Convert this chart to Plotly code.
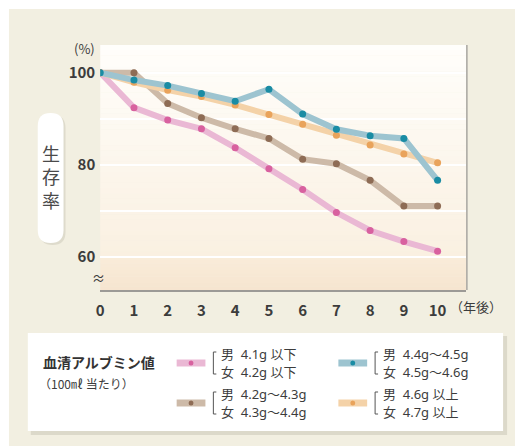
import plotly.graph_objects as go

W, H = 515, 446

years = list(range(11))
x_tick_labels = [str(v) for v in years]
y_tick_vals = [60, 70, 80, 90, 100]
y_tick_text = ["60", "", "80", "", "100"]

pink_vals = [100, 92.4, 89.7, 87.8, 83.7, 79.1, 74.6, 69.6, 65.7, 63.3, 61.2]
brown_vals = [100, 100, 93.3, 90.2, 87.8, 85.7, 81.2, 80.2, 76.6, 71.0, 71.0]
orange_vals = [100, 97.9, 96.2, 94.8, 93.0, 90.9, 88.8, 86.4, 84.3, 82.3, 80.4]
teal_vals = [100, 98.4, 97.2, 95.5, 93.8, 96.4, 91.0, 87.7, 86.3, 85.7, 76.6]

series_names = ["pink", "brown", "orange", "teal"]
series_vals = [pink_vals, brown_vals, orange_vals, teal_vals]
line_colors = ["#eab8d4", "#cdbaa8", "#f4d2a8", "#9dc4d0"]
marker_colors = ["#d8619f", "#8e6c55", "#e9a35b", "#1a8ca4"]

legend_title = "血清アルブミン値"
legend_subtitle = "（100㎖ 当たり）"
legend_lines = {
    "pink": ("男  4.1g 以下", "女  4.2g 以下"),
    "brown": ("男  4.2g〜4.3g", "女  4.3g〜4.4g"),
    "teal": ("男  4.4g〜4.5g", "女  4.5g〜4.6g"),
    "orange": ("男  4.6g 以上", "女  4.7g 以上"),
}

FONT = "Noto Sans CJK JP"
LFONT = "Noto Sans, Noto Sans CJK JP"
TXT = "#3c3c3c"


def px(x):
    return x / W


def py(y):
    return 1 - y / H


# plot area in pixels
PL, PR, PT, PB = 97, 466, 45, 290
x_range = [0, (PR - PL) / 34.0]
y_range = [100 - (PB - 72.7) / 4.6, 100 + (72.7 - PT) / 4.6]

fig = go.Figure()
for name, vals, lc, mc in zip(series_names, series_vals, line_colors, marker_colors):
    fig.add_trace(go.Scatter(
        x=years, y=vals, mode="lines+markers", name=name,
        line=dict(color=lc, width=6),
        marker=dict(color=mc, size=7),
        showlegend=False, hoverinfo="skip",
    ))

shapes = []
# beige panel
shapes.append(dict(type="rect", xref="paper", yref="paper", x0=px(5), x1=1, y0=0, y1=py(9),
                   fillcolor="#f2efe1", line=dict(width=0), layer="below"))


def lerp(c1, c2, t):
    a = [int(c1[i:i + 2], 16) for i in (1, 3, 5)]
    b = [int(c2[i:i + 2], 16) for i in (1, 3, 5)]
    return "#" + "".join("%02x" % round(a[k] + (b[k] - a[k]) * t) for k in range(3))


# gradient above 60
n = 40
top = y_range[1]
for i in range(n):
    y0 = 60 + (top - 60) * i / n
    y1 = 60 + (top - 60) * (i + 1) / n
    t = 1 - (i + 0.5) / n
    shapes.append(dict(type="rect", xref="x domain", yref="y", x0=0, x1=1, y0=y0, y1=y1 + 0.05,
                       fillcolor=lerp("#fffefb", "#faf0e1", t), line=dict(width=0), layer="below"))
m = 10
bot = y_range[0]
for i in range(m):
    y0 = bot + (60 - bot) * i / m
    y1 = bot + (60 - bot) * (i + 1) / m
    t = 1 - (i + 0.5) / m
    shapes.append(dict(type="rect", xref="x domain", yref="y", x0=0, x1=1, y0=y0, y1=y1 + 0.05,
                       fillcolor=lerp("#f9ecda", "#f6e5cf", t), line=dict(width=0), layer="below"))

# right edge shadow line
shapes.append(dict(type="line", xref="paper", yref="paper", x0=px(PR + 0.5), x1=px(PR + 0.5),
                   y0=py(PT), y1=py(PB), line=dict(color="#a9a6a0", width=1.5)))


def rrect(x0, y0, x1, y1, r, fill, line_w=0):
    rx, ry = r / W, r / H
    X0, X1 = px(x0), px(x1)
    Y0, Y1 = py(y0), py(y1)  # Y0 top, Y1 bottom
    path = (f"M {X0+rx},{Y0} L {X1-rx},{Y0} Q {X1},{Y0} {X1},{Y0-ry} "
            f"L {X1},{Y1+ry} Q {X1},{Y1} {X1-rx},{Y1} L {X0+rx},{Y1} "
            f"Q {X0},{Y1} {X0},{Y1+ry} L {X0},{Y0-ry} Q {X0},{Y0} {X0+rx},{Y0} Z")
    return dict(type="path", xref="paper", yref="paper", path=path, fillcolor=fill,
                line=dict(width=line_w), layer="above")


# y label pill
shapes.append(rrect(36, 115, 62, 245, 13, "#dedbcc"))
shapes.append(rrect(34, 113, 60, 243, 13, "#ffffff"))

# legend box
shapes.append(dict(type="rect", xref="paper", yref="paper", x0=px(27), x1=px(507), y0=py(435), y1=py(336),
                   fillcolor="#dcd9ca", line=dict(width=0)))
shapes.append(dict(type="rect", xref="paper", yref="paper", x0=px(24), x1=px(503), y0=py(431), y1=py(333),
                   fillcolor="#ffffff", line=dict(width=0)))

annotations = []
# legend entries
legend_pos = {"pink": (174, 363), "brown": (174, 403), "teal": (337, 363), "orange": (337, 403)}
for name, lc, mc in zip(series_names, line_colors, marker_colors):
    sx, sy = legend_pos[name]
    shapes.append(dict(type="rect", xref="paper", yref="paper", x0=px(sx), x1=px(sx + 29),
                       y0=py(sy + 3.5), y1=py(sy - 3.5), fillcolor=lc, line=dict(width=0)))
    shapes.append(dict(type="circle", xref="paper", yref="paper", x0=px(sx + 12), x1=px(sx + 17),
                       y0=py(sy + 2.5), y1=py(sy - 2.5), fillcolor=mc, line=dict(width=0)))
    bx = sx + 37
    shapes.append(dict(type="path", xref="paper", yref="paper",
                       path=f"M {px(bx+3)},{py(sy-11)} L {px(bx)},{py(sy-11)} L {px(bx)},{py(sy+11)} L {px(bx+3)},{py(sy+11)}",
                       line=dict(color="#555555", width=1)))
    l1, l2 = legend_lines[name]
    annotations.append(dict(xref="paper", yref="paper", x=px(bx + 6), y=py(sy - 9), text=l1,
                            showarrow=False, xanchor="left", yanchor="middle",
                            font=dict(family=LFONT, size=13, color=TXT)))
    annotations.append(dict(xref="paper", yref="paper", x=px(bx + 6), y=py(sy + 9), text=l2,
                            showarrow=False, xanchor="left", yanchor="middle",
                            font=dict(family=LFONT, size=13, color=TXT)))

annotations.append(dict(xref="paper", yref="paper", x=px(37), y=py(362), text=legend_title,
                        showarrow=False, xanchor="left", yanchor="middle",
                        font=dict(family=FONT, size=14, color="#333333", weight="bold")))
annotations.append(dict(xref="paper", yref="paper", x=px(33), y=py(383), text=legend_subtitle,
                        showarrow=False, xanchor="left", yanchor="middle",
                        font=dict(family=FONT, size=12, color=TXT)))

# y label
annotations.append(dict(xref="paper", yref="paper", x=px(47), y=py(177), text="生<br>存<br>率",
                        showarrow=False, xanchor="center", yanchor="middle",
                        font=dict(family=FONT, size=18, color="#4a4a4a")))
# units
annotations.append(dict(xref="paper", yref="paper", x=px(81), y=py(49), text="(%)",
                        showarrow=False, xanchor="center", yanchor="middle",
                        font=dict(family=FONT, size=13, color=TXT)))
annotations.append(dict(xref="paper", yref="paper", x=px(476), y=py(306), text="（年後）",
                        showarrow=False, xanchor="center", yanchor="middle",
                        font=dict(family=FONT, size=13, color=TXT)))
annotations.append(dict(xref="paper", yref="paper", x=px(95), y=py(277), text="≈",
                        showarrow=False, xanchor="center", yanchor="middle",
                        font=dict(family=FONT, size=13, color=TXT)))

fig.update_layout(
    width=W, height=H,
    margin=dict(l=0, r=0, t=0, b=0),
    paper_bgcolor="#ffffff",
    plot_bgcolor="rgba(0,0,0,0)",
    shapes=shapes,
    annotations=annotations,
    xaxis=dict(domain=[px(PL), px(PR)], range=x_range, tickvals=years, ticktext=x_tick_labels,
               showgrid=False, zeroline=False, showline=True, linecolor="#9c9a96", linewidth=1.5,
               ticks="", ticklabelstandoff=6,
               tickfont=dict(family=FONT, size=15, color=TXT, weight="bold"), fixedrange=True),
    yaxis=dict(domain=[py(PB), py(PT)], range=y_range, tickvals=y_tick_vals, ticktext=y_tick_text,
               showgrid=True, gridcolor="#ffffff", gridwidth=1.5, zeroline=False, showline=False,
               ticks="", ticklabelstandoff=4,
               tickfont=dict(family=FONT, size=15, color=TXT, weight="bold"), fixedrange=True),
    showlegend=False,
)

fig.write_html("out.html")
